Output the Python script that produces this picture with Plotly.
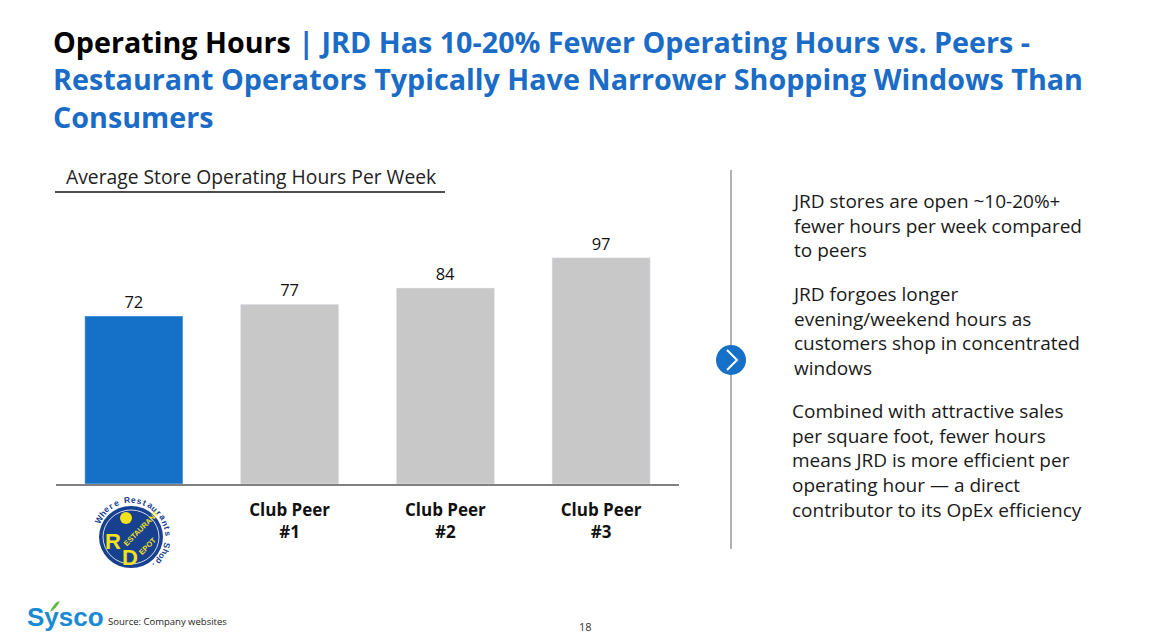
import math

import plotly.graph_objects as go

# chart data
categories = ["JRD", "Club Peer #1", "Club Peer #2", "Club Peer #3"]
hours = [72, 77, 84, 97]
tick_labels = ["", "<b>Club Peer</b><br><b>#1</b>", "<b>Club Peer</b><br><b>#2</b>", "<b>Club Peer</b><br><b>#3</b>"]
bar_colors = ["#1570C8", "#C8C8C8", "#C8C8C8", "#C8C8C8"]

title_black = "Operating Hours"
title_blue_1 = "| JRD Has 10-20% Fewer Operating Hours vs. Peers -"
title_blue_2 = "Restaurant Operators Typically Have Narrower Shopping Windows Than"
title_blue_3 = "Consumers"
chart_title = "Average Store Operating Hours Per Week"
bullets = [
    "JRD stores are open ~10-20%+<br>fewer hours per week compared<br>to peers",
    "JRD forgoes longer<br>evening/weekend hours as<br>customers shop in concentrated<br>windows",
    "Combined with attractive sales<br>per square foot, fewer hours<br>means JRD is more efficient per<br>"
    "operating hour \u2014 a direct<br>contributor to its OpEx efficiency",
]
source_note = "Source: Company websites"
page_number = "18"

W, H = 1158, 638
BLUE = "#1A6CC6"
NAVY = "#17408F"
YELLOW = "#F2E21B"


def px(x):
    return x / W


def py(y):
    return 1 - y / H


def label(text, x, y, size, color, family="Open Sans", anchor="left", **kw):
    return dict(x=px(x), y=py(y), xref="paper", yref="paper", xanchor=anchor, yanchor="middle",
                text=text, showarrow=False, font=dict(family=family, size=size, color=color), **kw)


fig = go.Figure(
    go.Bar(
        x=categories,
        y=hours,
        marker_color=bar_colors,
        text=hours,
        textposition="outside",
        textfont=dict(family="Open Sans", size=16.5, color="#111111"),
        cliponaxis=False,
        hoverinfo="skip",
    )
)

fig.update_xaxes(
    domain=[px(56), px(679)],
    tickvals=categories,
    ticktext=tick_labels,
    tickfont=dict(family="Open Sans", size=17, color="#111111"),
    ticklabelstandoff=10,
    showline=True,
    linecolor="#808080",
    linewidth=1.5,
    showgrid=False,
    ticks="",
)
fig.update_yaxes(
    domain=[py(484), py(204)],
    range=[0, 120],
    visible=False,
    showgrid=False,
)

title_text = (f"<span style='color:#000000'>{title_black}</span> {title_blue_1}<br>"
              f"{title_blue_2}<br>{title_blue_3}")
annotations = [
    dict(x=px(51), y=py(79), xref="paper", yref="paper", xanchor="left", yanchor="middle", align="left",
         text=title_text, font=dict(family="Open Sans", size=28.7, color=BLUE, weight=700), showarrow=False),
    label(chart_title, 64, 176, 19.3, "#222222"),
]

# right side commentary, each paragraph centred on its middle line
for mid, para in zip([225.5, 331, 460], bullets):
    annotations.append(label(para, 790, mid, 19, "#1A1A1A", align="left"))

# footer
annotations += [
    label("<b>Sysco</b>", 25, 617, 26, "#1A8AD4", family="Liberation Sans"),
    label(source_note, 106, 621, 9.5, "#222222"),
    label(page_number, 586, 626, 11, "#333333", anchor="center"),
]

# Restaurant Depot logo (approximation)
cx, cy, r = 131, 537, 37
arc = "Where Restaurants Shop."
start, end = 150, -50
for i, ch in enumerate(arc):
    a = start + (end - start) * i / (len(arc) - 1)
    annotations.append(label(f"<b>{ch}</b>", cx + r * math.cos(math.radians(a)), cy - r * math.sin(math.radians(a)),
                             8.5, NAVY, family="Liberation Sans", anchor="center", textangle=90 - a))
for txt, x, y, size, ang in [
    ("R", 113, 541, 22, 0), ("ESTAURANT", 141, 528, 7.5, -45),
    ("D", 130, 557, 22, 0), ("EPOT", 147, 546, 7.5, -45),
]:
    annotations.append(label(f"<b>{txt}</b>", x, y, size, YELLOW, family="Liberation Sans",
                             anchor="center", textangle=ang))

shapes = [
    # underline of chart title
    dict(type="line", xref="paper", yref="paper", x0=px(55), x1=px(445), y0=py(192), y1=py(192),
         line=dict(color="#111111", width=1.5)),
    # divider with chevron badge
    dict(type="line", xref="paper", yref="paper", x0=px(731), x1=px(731), y0=py(170), y1=py(549),
         line=dict(color="#9A9A9A", width=1.5)),
    dict(type="circle", xref="paper", yref="paper", x0=px(716), x1=px(746), y0=py(375), y1=py(345),
         fillcolor="#1570C8", line=dict(width=0)),
    dict(type="path", xref="paper", yref="paper",
         path=f"M {px(727)} {py(350)} L {px(737)} {py(360)} L {px(727)} {py(370)}",
         line=dict(color="white", width=2)),
    # logo discs
    dict(type="circle", xref="paper", yref="paper", x0=px(99), x1=px(163), y0=py(568), y1=py(506),
         fillcolor=NAVY, line=dict(width=0), layer="below"),
    dict(type="circle", xref="paper", yref="paper", x0=px(103), x1=px(159), y0=py(564), y1=py(510),
         line=dict(color="white", width=0.8), layer="below"),
    dict(type="circle", xref="paper", yref="paper", x0=px(120), x1=px(132), y0=py(524), y1=py(512),
         fillcolor=YELLOW, line=dict(width=0), layer="below"),
    # sysco leaf
    dict(type="path", xref="paper", yref="paper",
         path=f"M {px(50)} {py(612)} Q {px(54)} {py(602)} {px(60)} {py(601)} Q {px(56)} {py(609)} {px(50)} {py(612)} Z",
         fillcolor="#5DB83B", line=dict(width=0)),
]

fig.update_layout(
    width=W,
    height=H,
    margin=dict(l=0, r=0, t=0, b=0),
    paper_bgcolor="white",
    plot_bgcolor="white",
    bargap=0.37,
    showlegend=False,
    annotations=annotations,
    shapes=shapes,
)

fig.write_html("out.html", config={"displayModeBar": False},
               post_script="document.body.style.margin = '0';")
